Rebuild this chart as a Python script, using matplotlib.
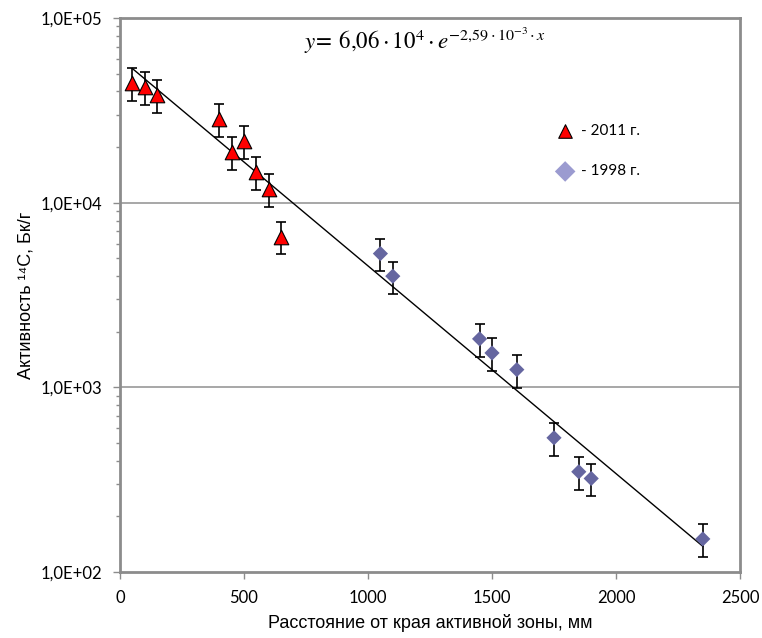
import numpy as np
import matplotlib
matplotlib.use("Agg")
import matplotlib.pyplot as plt
from matplotlib.ticker import FixedLocator, FuncFormatter, LogLocator, NullFormatter

# 2011 measurements (triangles)
x_2011 = [50, 100, 150, 400, 450, 500, 550, 600, 650]
y_2011 = [44500, 42400, 38300, 28400, 18900, 21600, 14700, 11900, 6550]

# 1998 measurements (diamonds)
x_1998 = [1050, 1100, 1450, 1500, 1600, 1750, 1850, 1900, 2350]
y_1998 = [5300, 4000, 1830, 1535, 1247, 533, 349, 321, 151]

rel_err = 0.2

# exponential trend line y = A * exp(-k x)
fit_A = 6.06e4
fit_k = 2.59e-3
fit_range = [50, 2350]

xticks = [0, 500, 1000, 1500, 2000, 2500]
yticks = [1e2, 1e3, 1e4, 1e5]

label_font = ['Liberation Sans Narrow', 'Liberation Sans', 'DejaVu Sans']
tick_font = ['Lato', 'DejaVu Sans']
grey = '#8c8c8c'

fig = plt.figure(figsize=(7.62, 6.38), dpi=100)
ax = fig.add_axes([120/762, 66/638, 620/762, 554/638])

ax.set_yscale('log')
ax.set_xlim(0, 2500)
ax.set_ylim(1e2, 1e5)

# grid
for g in yticks[1:-1]:
    ax.axhline(g, color='#a0a0a0', lw=1.3, zorder=0)

# trend line
xf = np.linspace(fit_range[0], fit_range[1], 200)
ax.plot(xf, fit_A * np.exp(-fit_k * xf), color='black', lw=1.0, zorder=2)

y_2011 = np.array(y_2011, dtype=float)
y_1998 = np.array(y_1998, dtype=float)

ax.errorbar(x_2011, y_2011, yerr=rel_err * y_2011, fmt='none', ecolor='black',
            elinewidth=1.2, capsize=3.5, capthick=1.2, zorder=3)
ax.scatter(x_2011, y_2011, marker='^', s=110, color='red', edgecolor='black',
           linewidth=0.8, zorder=4)

ax.errorbar(x_1998, y_1998, yerr=rel_err * y_1998, fmt='none', ecolor='black',
            elinewidth=1.2, capsize=3.5, capthick=1.2, zorder=3)
ax.scatter(x_1998, y_1998, marker='D', s=60, color='#6566a0', edgecolor='none',
           zorder=4)

# legend, drawn by hand like the original
ax.scatter([0.718], [0.796], transform=ax.transAxes, marker='^', s=95,
           color='red', edgecolor='black', linewidth=0.8, clip_on=False)
ax.scatter([0.718], [0.723], transform=ax.transAxes, marker='D', s=110,
           color='#9b9bd0', edgecolor='none', clip_on=False)
ax.text(0.743, 0.796, '- 2011 г.', transform=ax.transAxes, va='center',
        fontsize=11, family=tick_font)
ax.text(0.743, 0.723, '- 1998 г.', transform=ax.transAxes, va='center',
        fontsize=11, family=tick_font)

# equation
plt.rcParams['mathtext.fontset'] = 'stix'
ax.text(0.492, 0.958,
        r'$y\!=\;6{,}06\cdot 10^{4}\cdot e^{-2{,}59\cdot 10^{-3}\cdot x}$',
        transform=ax.transAxes, ha='center', va='center', fontsize=16.5)

# axes styling
for s in ax.spines.values():
    s.set_color(grey)
    s.set_linewidth(2)

ax.xaxis.set_major_locator(FixedLocator(xticks))
ax.yaxis.set_major_locator(FixedLocator(yticks))
ax.yaxis.set_minor_locator(LogLocator(base=10, subs=np.arange(2, 10)))
ax.yaxis.set_minor_formatter(NullFormatter())
ax.yaxis.set_major_formatter(FuncFormatter(
    lambda v, p: '1,0E+%02d' % int(round(np.log10(v)))))

ax.tick_params(axis='both', which='major', direction='out', length=5,
               width=1, color=grey, labelsize=12, pad=8)
ax.tick_params(axis='y', which='minor', direction='out', length=3,
               width=1, color=grey)
for lab in ax.get_xticklabels() + ax.get_yticklabels():
    lab.set_family(tick_font)

ax.set_xlabel('Расстояние от края активной зоны, мм', fontsize=13,
              family=label_font, labelpad=6)
ax.set_ylabel('Активность ¹⁴С, Бк/г', fontsize=13, family=label_font,
              labelpad=4)

fig.savefig('out.png', dpi=100)
